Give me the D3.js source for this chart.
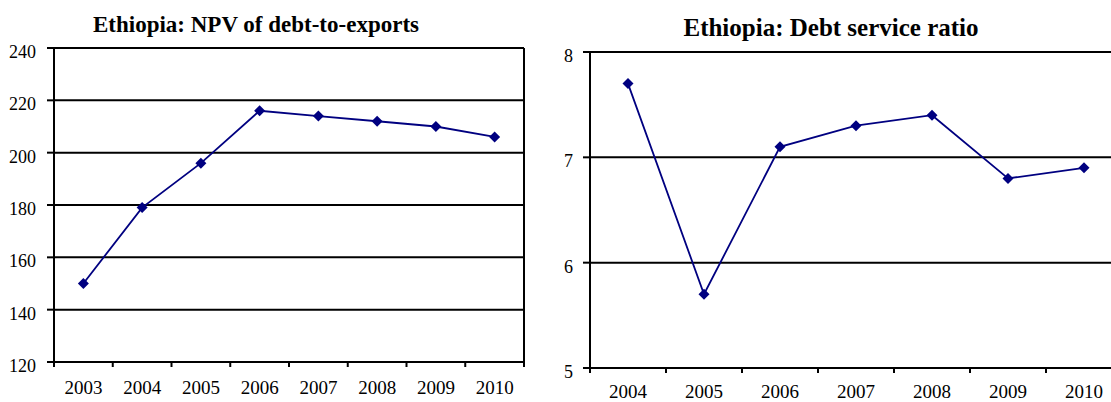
<html>
<head>
<style>
  body { margin: 0; background: #fff; }
</style>
<script src="https://d3js.org/d3.v7.min.js"></script>
</head>
<body>
<svg width="1111" height="402" font-family="'Liberation Serif', 'Times New Roman', Times, Tinos, serif"></svg>
<script>
// left panel: NPV of debt-to-exports
var npvYears = ["2003", "2004", "2005", "2006", "2007", "2008", "2009", "2010"];
var npvValues = [150, 179, 196, 216, 214, 212, 210, 206];
var npvTicks = [120, 140, 160, 180, 200, 220, 240];

// right panel: debt service ratio
var dsrYears = ["2004", "2005", "2006", "2007", "2008", "2009", "2010"];
var dsrValues = [7.7, 5.7, 7.1, 7.3, 7.4, 6.8, 6.9];
var dsrTicks = [5, 6, 7, 8];

var svg = d3.select("svg");
svg.append("rect").attr("width", 1111).attr("height", 402).attr("fill", "#fff");

function drawPanel(p) {
    var x = d3.scaleBand().domain(p.years).range([p.left, p.right]);
    var y = d3.scaleLinear().domain([p.ticks[0], p.ticks[p.ticks.length - 1]]).range([p.bottom, p.top]);
    var g = svg.append("g");

    // gridlines (all but the bottom one, which is the axis)
    g.selectAll(".grid")
     .data(p.ticks.slice(1))
     .enter().append("line")
     .attr("x1", p.left).attr("x2", p.right)
     .attr("y1", function(d) { return y(d); })
     .attr("y2", function(d) { return y(d); })
     .attr("stroke", "#000").attr("stroke-width", 2);

    if (p.border) {
        g.append("line")
         .attr("x1", p.right).attr("x2", p.right)
         .attr("y1", y.range()[1]).attr("y2", y.range()[0])
         .attr("stroke", "#000").attr("stroke-width", 2);
    }

    // y axis line, ticks, labels
    g.append("line")
     .attr("x1", p.left).attr("x2", p.left)
     .attr("y1", p.top - 1).attr("y2", p.bottom + 5)
     .attr("stroke", "#000").attr("stroke-width", 2);
    g.selectAll(".ytick")
     .data(p.ticks)
     .enter().append("line")
     .attr("x1", p.left - 7).attr("x2", p.left)
     .attr("y1", function(d) { return y(d); })
     .attr("y2", function(d) { return y(d); })
     .attr("stroke", "#000").attr("stroke-width", 2);
    g.selectAll(".ylab")
     .data(p.ticks)
     .enter().append("text")
     .attr("x", p.labelX)
     .attr("y", function(d) { return y(d) + 10; })
     .attr("text-anchor", "end")
     .attr("font-size", "18px")
     .text(function(d) { return d; });

    // x axis line, ticks, labels
    g.append("line")
     .attr("x1", p.left - 7).attr("x2", p.right)
     .attr("y1", p.bottom).attr("y2", p.bottom)
     .attr("stroke", "#000").attr("stroke-width", 2);
    var edges = p.years.map(function(d) { return x(d); }).concat([p.right]);
    g.selectAll(".xtick")
     .data(edges)
     .enter().append("line")
     .attr("x1", function(d) { return d; })
     .attr("x2", function(d) { return d; })
     .attr("y1", p.bottom).attr("y2", p.bottom + 5)
     .attr("stroke", "#000").attr("stroke-width", 2);
    g.selectAll(".xlab")
     .data(p.years)
     .enter().append("text")
     .attr("x", function(d) { return x(d) + x.bandwidth() / 2; })
     .attr("y", p.xLabelY)
     .attr("text-anchor", "middle")
     .attr("font-size", "19px")
     .text(function(d) { return d; });

    // series
    var pts = p.years.map(function(d, i) { return [x(d) + x.bandwidth() / 2, y(p.values[i])]; });
    g.append("path")
     .attr("d", d3.line()(pts))
     .attr("fill", "none")
     .attr("stroke", "#000080")
     .attr("stroke-width", 1.8);
    g.selectAll(".mark")
     .data(pts)
     .enter().append("path")
     .attr("transform", function(d) { return "translate(" + d[0] + "," + d[1] + ")"; })
     .attr("d", "M0,-5.5L5.5,0L0,5.5L-5.5,0Z")
     .attr("fill", "#000080");

    svg.append("text")
     .attr("x", p.titleX)
     .attr("y", p.titleY)
     .attr("text-anchor", "middle")
     .attr("font-size", p.titleSize)
     .attr("font-weight", "bold")
     .text(p.title);
}

drawPanel({
    title: "Ethiopia: NPV of debt-to-exports", titleX: 256, titleY: 32, titleSize: "23px",
    years: npvYears, values: npvValues, ticks: npvTicks,
    left: 54, right: 524, top: 48, bottom: 362, labelX: 36, xLabelY: 394, border: true
});

drawPanel({
    title: "Ethiopia: Debt service ratio", titleX: 831, titleY: 36, titleSize: "25px",
    years: dsrYears, values: dsrValues, ticks: dsrTicks,
    left: 590, right: 1122, top: 52, bottom: 368, labelX: 573, xLabelY: 398, border: false
});
</script>
</body>
</html>
